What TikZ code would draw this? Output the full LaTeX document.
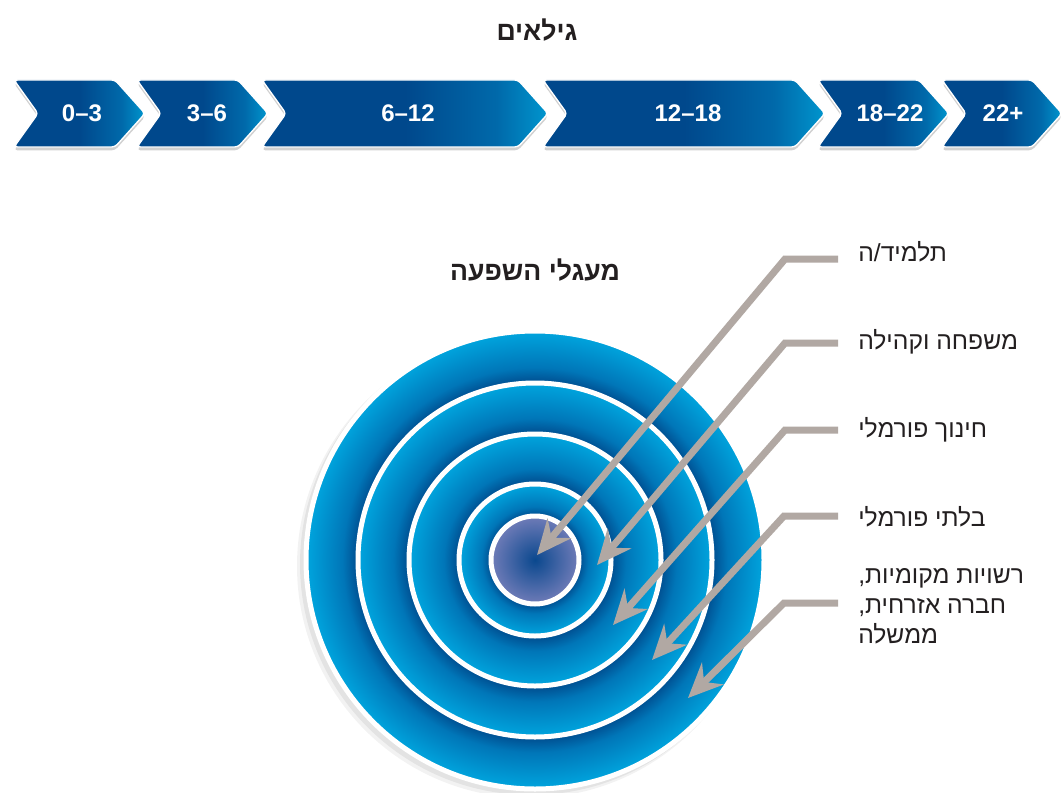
\documentclass[tikz,border=0pt]{standalone}
\usepackage{fontspec}
\setmainfont{Liberation Sans}
\newfontfamily\heb[Script=Hebrew]{Liberation Sans}
\TeXXeTstate=1
\usetikzlibrary{arrows.meta,shadows}
\definecolor{cdark}{RGB}{0,76,142}
\definecolor{cmid}{RGB}{0,118,184}
\definecolor{clight}{RGB}{0,165,222}
\definecolor{innerc}{RGB}{10,72,142}
\definecolor{inneredge}{RGB}{112,124,184}
\definecolor{chd}{RGB}{0,72,140}
\definecolor{chm}{RGB}{0,105,170}
\definecolor{chl}{RGB}{0,150,206}
\definecolor{arrowgray}{RGB}{177,168,163}
\definecolor{txt}{RGB}{35,31,32}
\pgfdeclareradialshading{bandA}{\pgfpoint{0bp}{0bp}}{color(0bp)=(cdark); color(19.3bp)=(cdark); color(21bp)=(cmid); color(25bp)=(clight); color(50bp)=(clight)}
\pgfdeclareradialshading{bandB}{\pgfpoint{0bp}{0bp}}{color(0bp)=(cdark); color(17.8bp)=(cdark); color(20bp)=(cmid); color(25bp)=(clight); color(50bp)=(clight)}
\pgfdeclareradialshading{bandC}{\pgfpoint{0bp}{0bp}}{color(0bp)=(cdark); color(15.1bp)=(cdark); color(18.1bp)=(cmid); color(25bp)=(clight); color(50bp)=(clight)}
\pgfdeclareradialshading{bandD}{\pgfpoint{0bp}{0bp}}{color(0bp)=(cdark); color(14.5bp)=(cdark); color(17.6bp)=(cmid); color(25bp)=(clight); color(50bp)=(clight)}
\pgfdeclareradialshading{bandE}{\pgfpoint{0bp}{0bp}}{color(0bp)=(innerc); color(25bp)=(inneredge); color(50bp)=(inneredge)}
\pgfdeclarehorizontalshading{chev}{100bp}{color(0bp)=(chd); color(25bp)=(chd); color(50bp)=(chd); color(66bp)=(chm); color(75bp)=(chl); color(100bp)=(chl)}
\tikzset{
  chevshape/.style={shading=chev, draw=white, line width=1pt, rounded corners=2.5pt,
    drop shadow={shadow xshift=0pt, shadow yshift=-2.5pt, opacity=0.18, fill=black}},
  chevtext/.style={text=white, font=\bfseries\fontsize{18}{21}\selectfont, inner sep=0pt},
  ring/.style={circle, inner sep=0pt, draw=white, line width=3.75pt},
  title/.style={text=txt, font=\heb\bfseries\fontsize{20}{24}\selectfont, inner sep=0pt},
  lab/.style={text=txt, font=\heb\fontsize{18.5}{22.5}\selectfont, inner sep=0pt, anchor=west, align=left},
  arr/.style={draw=arrowgray, line width=5.25pt, line join=miter,
    -{Stealth[length=26pt, width=23pt, inset=9pt]}}
}
\begin{document}
\begin{tikzpicture}[x=0.75pt, y=-0.75pt]
\useasboundingbox (0,0) rectangle (1063,792);
\fill[white] (0,0) rectangle (1063,792);

% title
\node[title] (t-ages) at (537,30) {\beginR גילאים\endR};

% chevrons
\shade[chevshape] (14,80) -- (115,80) -- (145,113.5) -- (115,147) -- (14,147) -- (38,113.5) -- cycle;
\shade[chevshape] (137,80) -- (238,80) -- (268,113.5) -- (238,147) -- (137,147) -- (161,113.5) -- cycle;
\shade[chevshape] (262,80) -- (518,80) -- (548,113.5) -- (518,147) -- (262,147) -- (286,113.5) -- cycle;
\shade[chevshape] (543,80) -- (795,80) -- (825,113.5) -- (795,147) -- (543,147) -- (567,113.5) -- cycle;
\shade[chevshape] (818,80) -- (919,80) -- (949,113.5) -- (919,147) -- (818,147) -- (842,113.5) -- cycle;
\shade[chevshape] (942,80) -- (1032,80) -- (1062,113.5) -- (1032,147) -- (942,147) -- (966,113.5) -- cycle;
\node[chevtext] (c1) at (82,113) {0\textendash3};
\node[chevtext] (c2) at (207,113) {3\textendash6};
\node[chevtext] (c3) at (408,113) {6\textendash12};
\node[chevtext] (c4) at (688,113) {12\textendash18};
\node[chevtext] (c5) at (890,113) {18\textendash22};
\node[chevtext] (c6) at (1003,113) {22+};

% second title
\node[title] (t-circ) at (535,270) {\beginR מעגלי השפעה\endR};

% circle shadow
\fill[black, opacity=0.06] (531,564) circle (231);
\fill[black, opacity=0.05] (529,566) circle (232);

% rings
\node[ring, shading=bandA, minimum size=343.5pt] (r1) at (535,560) {};
\node[ring, shading=bandB, minimum size=265.5pt] (r2) at (535,560) {};
\node[ring, shading=bandC, minimum size=189pt] (r3) at (535,560) {};
\node[ring, shading=bandD, minimum size=114pt] (r4) at (535,560) {};
\node[ring, shading=bandE, minimum size=66pt] (r5) at (535,560) {};

% labels
\node[lab] (l1) at (858,252) {\beginR תלמיד/ה\endR};
\node[lab] (l2) at (858,342) {\beginR משפחה וקהילה\endR};
\node[lab] (l3) at (858,430) {\beginR חינוך פורמלי\endR};
\node[lab] (l4) at (858,517) {\beginR בלתי פורמלי\endR};
\node[lab] (l5) at (858,606) {\beginR רשויות מקומיות,\endR\\\beginR חברה אזרחית,\endR\\\beginR ממשלה\endR};

% arrow coordinates
\coordinate (s1) at (838,259); \coordinate (b1) at (785,259); \coordinate (e1) at (537,555);
\coordinate (s2) at (838,343); \coordinate (b2) at (785,343); \coordinate (e2) at (597,565);
\coordinate (s3) at (838,430); \coordinate (b3) at (785,430); \coordinate (e3) at (613,625);
\coordinate (s4) at (838,516); \coordinate (b4) at (784,516); \coordinate (e4) at (652,660);
\coordinate (s5) at (838,603); \coordinate (b5) at (784,603); \coordinate (e5) at (688,698);

\draw[arr] (s1) -- (b1) -- (e1);
\draw[arr] (s2) -- (b2) -- (e2);
\draw[arr] (s3) -- (b3) -- (e3);
\draw[arr] (s4) -- (b4) -- (e4);
\draw[arr] (s5) -- (b5) -- (e5);
\end{tikzpicture}
\end{document}
